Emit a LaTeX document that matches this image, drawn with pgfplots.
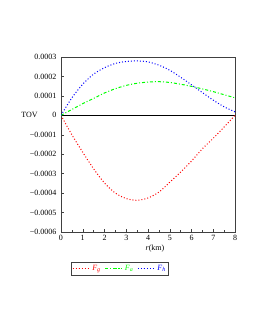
\documentclass[border=0pt]{standalone}
\usepackage{pgfplots}
\pgfplotsset{compat=1.18}
\usepackage{fontspec}
\setmainfont{Liberation Serif}
\begin{document}
\begin{tikzpicture}[font=\fontsize{8}{9.6}\selectfont]
\path[use as bounding box] (0,0) rectangle (255pt,330pt);
\begin{axis}[
  at={(61pt,98pt)}, anchor=south west, scale only axis,
  width=174pt, height=175pt,
  xmin=0, xmax=8, ymin=-0.0006, ymax=0.0003,
  scaled y ticks=false, scaled x ticks=false,
  xtick={0,1,2,3,4,5,6,7,8},
  xticklabels={0,1,2,3,4,5,6,7,8},
  minor x tick num=1,
  ytick={-0.0006,-0.0005,-0.0004,-0.0003,-0.0002,-0.0001,0,0.0001,0.0002,0.0003},
  yticklabels={−0.0006,−0.0005,−0.0004,−0.0003,−0.0002,−0.0001,0,0.0001,0.0002,0.0003},
  tick align=inside, xtick pos=bottom, ytick pos=left,
  major tick length=3pt, minor tick length=2pt,
  axis line style={black!75, line width=0.6pt},
  every tick/.style={black!75},
  xlabel={\textit{r}(km)},
  xlabel style={at={(rel axis cs:0.54,0)}, anchor=north, yshift=-9pt},
  ylabel={TOV},
  ylabel style={rotate=-90, at={(rel axis cs:-0.181,0.667)}, anchor=center},
  yticklabel style={xshift=-1pt},
  legend columns=3,
  legend style={at={(rel axis cs:0.057,-0.171)}, anchor=north west,
    draw=black!75, line width=0.6pt, inner sep=1pt,
    font=\fontsize{8}{9.6}\selectfont,
    /tikz/every even column/.append style={column sep=2pt}},
  legend cell align=left,
]
\addplot[forget plot, black, line width=0.5pt] coordinates {(0,0) (8,0)};
\addplot[red, line width=1pt, dash pattern=on 1pt off 2pt, smooth] coordinates {
(0,0) (0.5,-0.0001) (1,-0.00019) (1.5,-0.000275) (2,-0.000348) (2.5,-0.0004)
(3,-0.000428) (3.5,-0.000437) (4,-0.000425) (4.5,-0.000395) (5,-0.000344)
(5.5,-0.000292) (6,-0.000235) (6.5,-0.000172) (7,-0.000118) (7.5,-0.00006) (8,0)};
\addlegendentry{{\color{red}\textit{F}\textsubscript{\textit{g}}}}
\addplot[green, line width=1pt, dash pattern=on 3pt off 2pt on 1pt off 2pt, smooth] coordinates {
(0,0) (0.5,0.00003) (1,0.00006) (1.5,0.000087) (2,0.000115) (2.5,0.000137)
(3,0.000154) (3.5,0.000165) (4,0.000171) (4.5,0.000173) (5,0.000169)
(5.5,0.00016) (6,0.000149) (6.5,0.000136) (7,0.000122) (7.5,0.000106) (8,0.00009)};
\addlegendentry{{\color{green}\textit{F}\textsubscript{\textit{a}}}}
\addplot[blue, line width=1pt, dash pattern=on 1pt off 2pt, smooth] coordinates {
(0,0) (0.5,0.00009) (1,0.00016) (1.5,0.000212) (2,0.000245) (2.5,0.000267)
(3,0.000277) (3.5,0.00028) (4,0.000275) (4.5,0.000258) (5,0.000232)
(5.5,0.000196) (6,0.000157) (6.5,0.000117) (7,0.000078) (7.5,0.000044) (8,0.000018)};
\addlegendentry{{\color{blue}\textit{F}\textsubscript{\textit{h}}}}
\end{axis}
\end{tikzpicture}
\end{document}
